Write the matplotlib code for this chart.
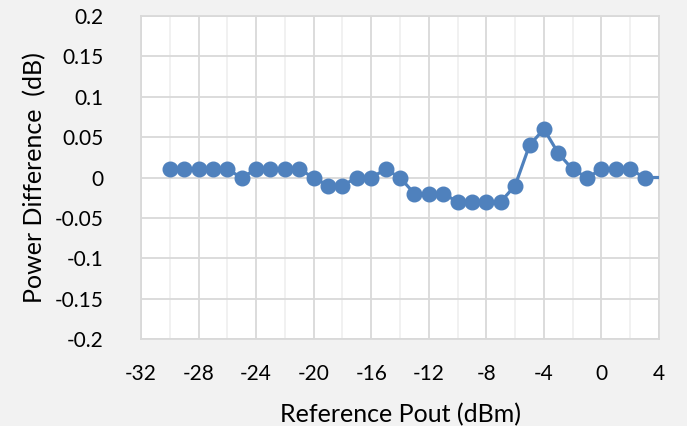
import matplotlib
matplotlib.use("Agg")
import matplotlib.pyplot as plt
from matplotlib.ticker import MultipleLocator, FixedLocator

x_vals = list(range(-30, 5))
y_vals = [0.01, 0.01, 0.01, 0.01, 0.01, 0.0, 0.01, 0.01, 0.01, 0.01,
          0.0, -0.01, -0.01, 0.0, 0.0, 0.01, 0.0, -0.02, -0.02, -0.02,
          -0.03, -0.03, -0.03, -0.03, -0.01, 0.04, 0.06, 0.03, 0.01, 0.0,
          0.01, 0.01, 0.01, 0.0, 0.0]
x_ticks = [-32, -28, -24, -20, -16, -12, -8, -4, 0, 4]
y_ticks = [-0.2, -0.15, -0.1, -0.05, 0, 0.05, 0.1, 0.15, 0.2]
y_tick_labels = ["-0.2", "-0.15", "-0.1", "-0.05", "0", "0.05", "0.1", "0.15", "0.2"]

plt.rcParams['font.family'] = ['Lato', 'DejaVu Sans']

fig = plt.figure(figsize=(6.87, 4.26), dpi=100, facecolor='#f2f2f2')
ax = fig.add_axes([0.2052, 0.2042, 0.7541, 0.7582])
ax.set_facecolor('white')

color = '#4f81bd'
ax.plot(x_vals, y_vals, color=color, lw=2.3, marker='o', markersize=10.5,
        markevery=list(range(len(x_vals) - 1)), clip_on=True, zorder=3)

ax.set_xlim(-32, 4)
ax.set_ylim(-0.2, 0.2)
ax.xaxis.set_major_locator(FixedLocator(x_ticks))
ax.xaxis.set_minor_locator(MultipleLocator(2))
ax.set_xticklabels([str(t) for t in x_ticks])
ax.yaxis.set_major_locator(FixedLocator(y_ticks))
ax.set_yticklabels(y_tick_labels)

ax.grid(True, which='major', axis='both', color='#d9d9d9', lw=1.3)
ax.grid(True, which='minor', axis='x', color='#f0f0f0', lw=1.3)
ax.set_axisbelow(True)
for s in ax.spines.values():
    s.set_color('#d9d9d9')
    s.set_linewidth(1.3)

ax.tick_params(which='both', length=0, labelsize=15, colors='black')
ax.tick_params(axis='x', pad=18)
ax.tick_params(axis='y', pad=27)
ax.set_xlabel('Reference Pout (dBm)', fontsize=18, labelpad=14)
ax.set_ylabel('Power Difference  (dB)', fontsize=18, labelpad=6)

fig.savefig('out.png', dpi=100, facecolor=fig.get_facecolor())
